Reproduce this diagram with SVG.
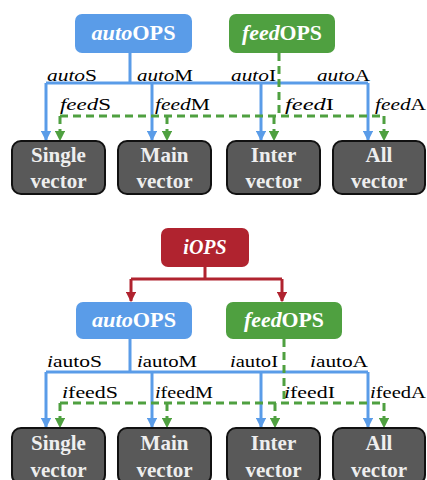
<svg xmlns="http://www.w3.org/2000/svg" width="427" height="480" viewBox="0 0 427 480">
<defs>
<style>
.auto{fill:#5A9CE8}
.feed{fill:#4FA040}
.iops{fill:#B0232F}
.vec{fill:#595959;stroke:#111;stroke-width:2}
text{font-family:'Liberation Serif','Times New Roman','DejaVu Serif',serif}
.bt{font-size:20px;font-weight:bold;fill:#fff;text-anchor:middle}
.vt{font-size:21px;font-weight:bold;fill:#eeeeee;text-anchor:middle}
.lb{font-size:17px;fill:#000}
.bl{stroke:#5A9CE8;stroke-width:3;fill:none}
.gr{stroke:#4FA040;stroke-width:3;fill:none;stroke-dasharray:8 5}
.rd{stroke:#B0232F;stroke-width:3;fill:none}
</style>
<marker id="ab" markerWidth="3.4" markerHeight="3.4" refX="3" refY="1.7" orient="auto" markerUnits="strokeWidth"><path d="M0,0 L3.4,1.7 L0,3.4 Z" fill="#5A9CE8"/></marker>
<marker id="ag" markerWidth="3.4" markerHeight="3.4" refX="3" refY="1.7" orient="auto" markerUnits="strokeWidth"><path d="M0,0 L3.4,1.7 L0,3.4 Z" fill="#4FA040"/></marker>
<marker id="ar" markerWidth="3.4" markerHeight="3.4" refX="3" refY="1.7" orient="auto" markerUnits="strokeWidth"><path d="M0,0 L3.4,1.7 L0,3.4 Z" fill="#B0232F"/></marker>
</defs>

<g id="connectors">
<path class="bl" d="M130,53 V83 M46,83 H368"/>
<path class="bl" d="M46,83 V140" marker-end="url(#ab)"/>
<path class="bl" d="M152,83 V140" marker-end="url(#ab)"/>
<path class="bl" d="M261,83 V140" marker-end="url(#ab)"/>
<path class="bl" d="M368,83 V140" marker-end="url(#ab)"/>
<path class="gr" d="M279,53 V116 M60,116 H384"/>
<path class="gr" d="M60,116 V140" marker-end="url(#ag)"/>
<path class="gr" d="M167,116 V140" marker-end="url(#ag)"/>
<path class="gr" d="M274,116 V140" marker-end="url(#ag)"/>
<path class="gr" d="M384,116 V140" marker-end="url(#ag)"/>
<path class="rd" d="M205,267 V279 M131,279 H282"/>
<path class="rd" d="M131,279 V301" marker-end="url(#ar)"/>
<path class="rd" d="M282,279 V301" marker-end="url(#ar)"/>
<path class="bl" d="M130,339 V372 M46,372 H368"/>
<path class="bl" d="M46,372 V427" marker-end="url(#ab)"/>
<path class="bl" d="M152,372 V427" marker-end="url(#ab)"/>
<path class="bl" d="M261,372 V427" marker-end="url(#ab)"/>
<path class="bl" d="M368,372 V427" marker-end="url(#ab)"/>
<path class="gr" d="M284,339 V403 M60,403 H384"/>
<path class="gr" d="M60,403 V427" marker-end="url(#ag)"/>
<path class="gr" d="M167,403 V427" marker-end="url(#ag)"/>
<path class="gr" d="M275,403 V427" marker-end="url(#ag)"/>
<path class="gr" d="M384,403 V427" marker-end="url(#ag)"/>
</g>

<g id="labels">
<text class="lb" x="47" y="81" textLength="50" lengthAdjust="spacingAndGlyphs"><tspan font-style="italic">auto</tspan>S</text>
<text class="lb" x="137" y="81" textLength="56" lengthAdjust="spacingAndGlyphs"><tspan font-style="italic">auto</tspan>M</text>
<text class="lb" x="231" y="81" textLength="45" lengthAdjust="spacingAndGlyphs"><tspan font-style="italic">auto</tspan>I</text>
<text class="lb" x="317" y="81" textLength="53" lengthAdjust="spacingAndGlyphs"><tspan font-style="italic">auto</tspan>A</text>
<text class="lb" x="60" y="110" textLength="51" lengthAdjust="spacingAndGlyphs"><tspan font-style="italic">feed</tspan>S</text>
<text class="lb" x="155" y="110" textLength="55" lengthAdjust="spacingAndGlyphs"><tspan font-style="italic">feed</tspan>M</text>
<text class="lb" x="285" y="110" textLength="49" lengthAdjust="spacingAndGlyphs"><tspan font-style="italic">feed</tspan>I</text>
<text class="lb" x="375" y="110" textLength="51" lengthAdjust="spacingAndGlyphs"><tspan font-style="italic">feed</tspan>A</text>
<text class="lb" x="47" y="367" textLength="55" lengthAdjust="spacingAndGlyphs"><tspan font-style="italic">i</tspan>autoS</text>
<text class="lb" x="137" y="367" textLength="60" lengthAdjust="spacingAndGlyphs"><tspan font-style="italic">i</tspan>autoM</text>
<text class="lb" x="230" y="367" textLength="48" lengthAdjust="spacingAndGlyphs"><tspan font-style="italic">i</tspan>autoI</text>
<text class="lb" x="310" y="367" textLength="58" lengthAdjust="spacingAndGlyphs"><tspan font-style="italic">i</tspan>autoA</text>
<text class="lb" x="62" y="398" textLength="56" lengthAdjust="spacingAndGlyphs"><tspan font-style="italic">i</tspan>feedS</text>
<text class="lb" x="155" y="398" textLength="58" lengthAdjust="spacingAndGlyphs"><tspan font-style="italic">i</tspan>feedM</text>
<text class="lb" x="284" y="398" textLength="51" lengthAdjust="spacingAndGlyphs"><tspan font-style="italic">i</tspan>feedI</text>
<text class="lb" x="370" y="398" textLength="56" lengthAdjust="spacingAndGlyphs"><tspan font-style="italic">i</tspan>feedA</text>
</g>

<g id="autoOPS-top">
<rect class="auto" x="75" y="14" width="117" height="39" rx="7"/>
<text class="bt" x="133.5" y="40" textLength="84" lengthAdjust="spacingAndGlyphs"><tspan font-style="italic">auto</tspan>OPS</text>
</g>
<g id="feedOPS-top">
<rect class="feed" x="229" y="14" width="106" height="39" rx="7"/>
<text class="bt" x="282" y="40" textLength="80" lengthAdjust="spacingAndGlyphs"><tspan font-style="italic">feed</tspan>OPS</text>
</g>
<g id="single-top">
<rect class="vec" x="12" y="141" width="93" height="53" rx="9"/>
<text class="vt" x="58.5" y="162">Single</text>
<text class="vt" x="58.5" y="188">vector</text>
</g>
<g id="main-top">
<rect class="vec" x="118" y="141" width="93" height="53" rx="9"/>
<text class="vt" x="164.5" y="162">Main</text>
<text class="vt" x="164.5" y="188">vector</text>
</g>
<g id="inter-top">
<rect class="vec" x="227" y="141" width="93" height="53" rx="9"/>
<text class="vt" x="273.5" y="162">Inter</text>
<text class="vt" x="273.5" y="188">vector</text>
</g>
<g id="all-top">
<rect class="vec" x="333" y="141" width="92" height="53" rx="9"/>
<text class="vt" x="379" y="162">All</text>
<text class="vt" x="379" y="188">vector</text>
</g>
<g id="iOPS">
<rect class="iops" x="161" y="228" width="88" height="39" rx="7"/>
<text class="bt" x="205" y="254" font-style="italic">iOPS</text>
</g>
<g id="autoOPS-bottom">
<rect class="auto" x="76" y="302" width="116" height="37" rx="7"/>
<text class="bt" x="134" y="327" textLength="84" lengthAdjust="spacingAndGlyphs"><tspan font-style="italic">auto</tspan>OPS</text>
</g>
<g id="feedOPS-bottom">
<rect class="feed" x="226" y="302" width="116" height="37" rx="7"/>
<text class="bt" x="284" y="327" textLength="80" lengthAdjust="spacingAndGlyphs"><tspan font-style="italic">feed</tspan>OPS</text>
</g>
<g id="single-bottom">
<rect class="vec" x="12" y="428" width="93" height="56" rx="9"/>
<text class="vt" x="58.5" y="450">Single</text>
<text class="vt" x="58.5" y="477">vector</text>
</g>
<g id="main-bottom">
<rect class="vec" x="118" y="428" width="93" height="56" rx="9"/>
<text class="vt" x="164.5" y="450">Main</text>
<text class="vt" x="164.5" y="477">vector</text>
</g>
<g id="inter-bottom">
<rect class="vec" x="227" y="428" width="93" height="56" rx="9"/>
<text class="vt" x="273.5" y="450">Inter</text>
<text class="vt" x="273.5" y="477">vector</text>
</g>
<g id="all-bottom">
<rect class="vec" x="333" y="428" width="92" height="56" rx="9"/>
<text class="vt" x="379" y="450">All</text>
<text class="vt" x="379" y="477">vector</text>
</g>
</svg>
